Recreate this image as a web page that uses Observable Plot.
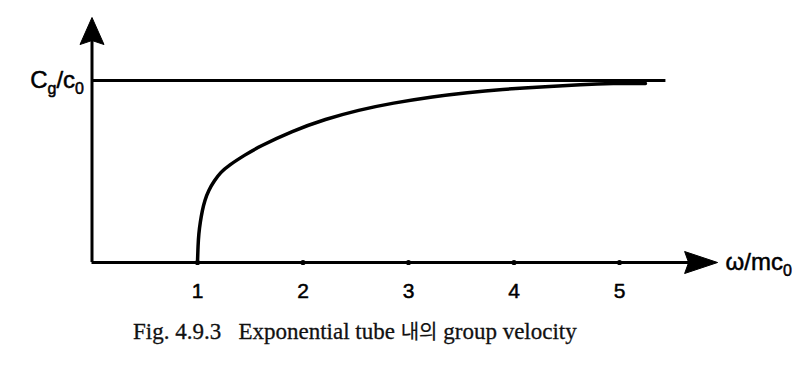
<!DOCTYPE html>
<html><head><meta charset="utf-8">
<script src="https://cdn.jsdelivr.net/npm/d3@7"></script>
<script src="https://cdn.jsdelivr.net/npm/@observablehq/plot@0.6"></script>
<style>
body{margin:0;background:#fff;width:812px;height:365px;overflow:hidden}
#cap{height:55px;padding-left:133px;font-family:"Liberation Serif","DejaVu Serif",serif;font-size:23px;line-height:24px;padding-top:9px;box-sizing:border-box;color:#111;white-space:pre;-webkit-text-stroke:0.3px #111}
#cap .ko{font-family:"Noto Sans CJK KR",sans-serif;font-size:20px;-webkit-text-stroke:0.2px #111}
</style>
</head><body><div id="chart"></div><div id="cap"></div>
<script>
// data
const xTicks = [1, 2, 3, 4, 5];
const omega = [1.0, 1.005, 1.012, 1.026, 1.045, 1.069, 1.104, 1.161, 1.218, 1.294, 1.455, 1.578, 1.90, 2.213, 2.526, 2.848, 3.237, 3.559, 3.872, 4.318, 4.63, 4.943, 5.246];
const cg    = [0, 0.093, 0.159, 0.220, 0.286, 0.341, 0.396, 0.451, 0.495, 0.533, 0.593, 0.635, 0.723, 0.788, 0.838, 0.876, 0.912, 0.934, 0.951, 0.967, 0.978, 0.984, 0.984];
const asymptote = 1;          // Cg/c0 level
const asymptoteEnd = 5.44;    // where the level line stops
const xAxisEnd = 5.93;        // tip of the x arrow
const yAxisEnd = 1.346;       // tip of the y arrow
const yLabelParts = [["C", false], ["g", true], ["/c", false], ["0", true]];
const xLabelParts = [["ω/mc", false], ["0", true]];
const captionText = ["Fig. 4.9.3   Exponential tube ", "내의", " group velocity"];

const curve = omega.map((w, i) => ({w, c: cg[i]}));

const arrowUp = {draw(ctx) { ctx.moveTo(0, 0); ctx.lineTo(12, 27); ctx.lineTo(0, 23); ctx.lineTo(-12, 27); ctx.closePath(); }};
const arrowRight = {draw(ctx) { ctx.moveTo(0, 0); ctx.lineTo(-11, 33); ctx.lineTo(0, 29); ctx.lineTo(11, 33); ctx.closePath(); }};

const chart = Plot.plot({
  width: 812,
  height: 310,
  x: {domain: [0, 6], range: [91.5, 724.5], axis: null},
  y: {domain: [0, 1], range: [262, 80], axis: null},
  style: {background: "#fff", fontFamily: "'Liberation Sans', Arial, sans-serif"},
  marks: [
    Plot.ruleX([0], {y1: 0, y2: yAxisEnd - 0.1, stroke: "#000", strokeWidth: 3}),
    Plot.ruleY([0], {x1: 0, x2: xAxisEnd - 0.2, stroke: "#000", strokeWidth: 3}),
    Plot.ruleY([asymptote], {x1: 0, x2: asymptoteEnd, stroke: "#000", strokeWidth: 3}),
    Plot.dot([yAxisEnd], {x: 0, y: d => d, symbol: arrowUp, fill: "#000", stroke: "#000", strokeWidth: 1}),
    Plot.dot([xAxisEnd], {x: d => d, y: 0, symbol: arrowRight, rotate: 90, fill: "#000", stroke: "#000", strokeWidth: 1}),
    Plot.line(curve, {x: "w", y: "c", curve: "basis", stroke: "#000", strokeWidth: 3.5}),
    Plot.dot(xTicks, {x: d => d, y: 0, r: 2.6, fill: "#000"}),
    Plot.text(xTicks, {x: d => d, y: 0, text: d => String(d), dy: 29, fontSize: 21, fill: "#000", stroke: "#000", strokeWidth: 0.5}),
    Plot.text(["YLABEL"], {x: 0, y: asymptote, dx: -8, text: d => d, textAnchor: "end", fontSize: 24, fill: "#000", stroke: "#000", strokeWidth: 0.5}),
    Plot.text(["XLABEL"], {x: xAxisEnd, y: 0, dx: 8, text: d => d, textAnchor: "start", fontSize: 24, fill: "#000", stroke: "#000", strokeWidth: 0.5})
  ]
});

function subscriptify(el, parts, subSize, shift) {
  const t = d3.select(el);
  t.text(null);
  let prevSub = false;
  parts.forEach(([s, sub]) => {
    const ts = t.append("tspan").text(s);
    if (sub) { ts.attr("font-size", subSize).attr("dy", prevSub ? 0 : shift); }
    else if (prevSub) { ts.attr("dy", -shift); }
    prevSub = sub;
  });
}
d3.select(chart).selectAll("text").each(function() {
  if (this.textContent === "YLABEL") subscriptify(this, yLabelParts, 16, 6);
  if (this.textContent === "XLABEL") subscriptify(this, xLabelParts, 16, 6);
});

document.getElementById("chart").append(chart);
const cap = d3.select("#cap");
cap.append("span").text(captionText[0]);
cap.append("span").attr("class", "ko").text(captionText[1]);
cap.append("span").text(captionText[2]);
</script>
</body></html>
